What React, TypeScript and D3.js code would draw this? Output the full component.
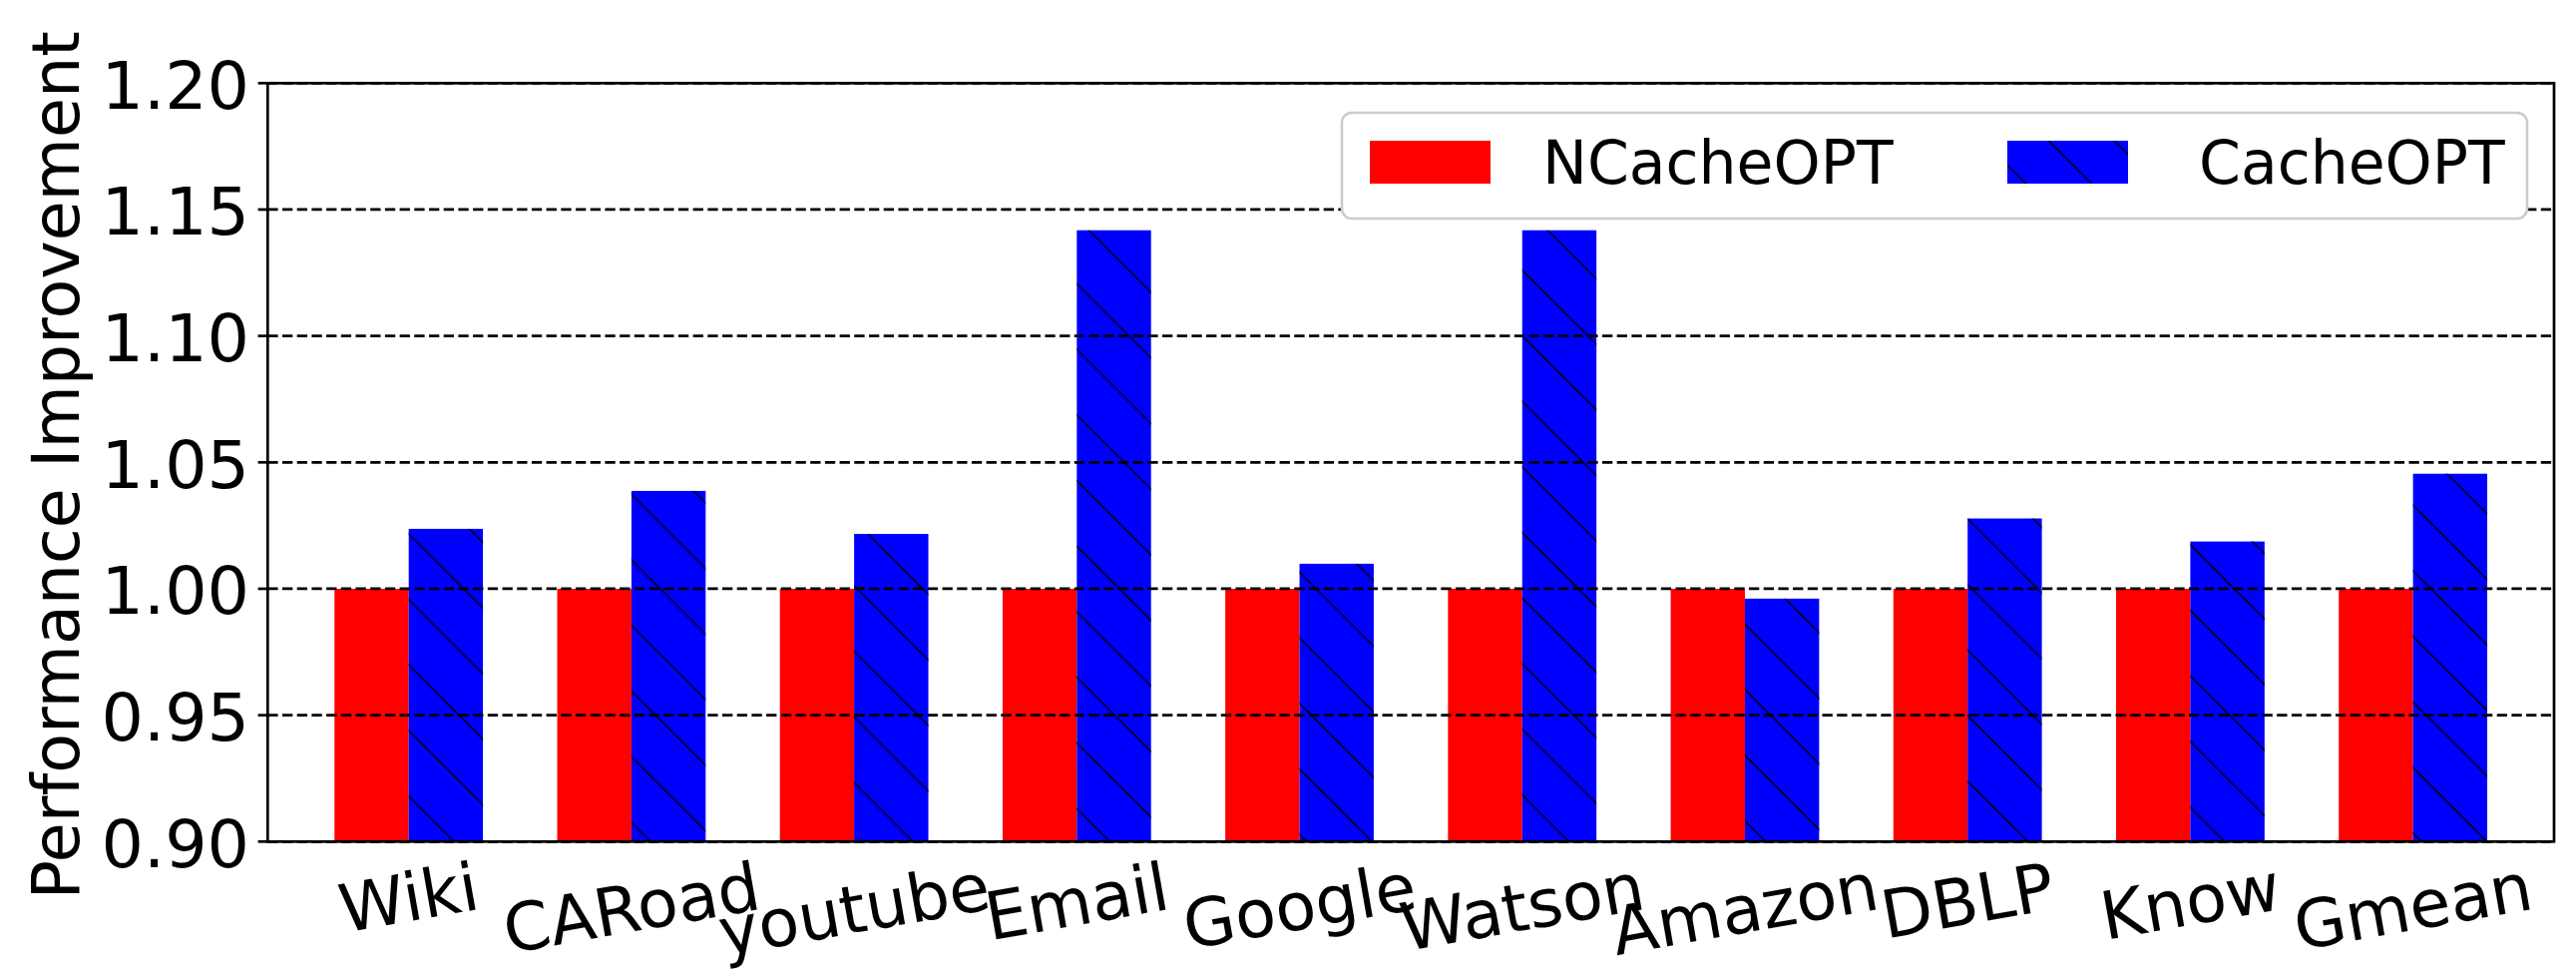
import React from "react";
import * as d3 from "d3";

// values
const categories = ["Wiki", "CARoad", "youtube", "Email", "Google", "Watson", "Amazon", "DBLP", "Know", "Gmean"];
const seriesNames = ["NCacheOPT", "CacheOPT"];
const ncacheopt = [1.0, 1.0, 1.0, 1.0, 1.0, 1.0, 1.0, 1.0, 1.0, 1.0];
const cacheopt = [1.0237, 1.0387, 1.0217, 1.1418, 1.0099, 1.1418, 0.9961, 1.0278, 1.0187, 1.0455];
const yTicks = [0.9, 0.95, 1.0, 1.05, 1.1, 1.15, 1.2];
const yLabel = "Performance Improvement";

const W = 2582;
const H = 982;
const FONT = "DejaVu Sans";
const TICK_FS = 66.7;
const LABEL_FS = 65;
const LEGEND_FS = 60;

const plot = { left: 268.3, right: 2560, top: 83.3, bottom: 843.3 };

function textWidth(s: string, font: string) {
  const ctx = document.createElement("canvas").getContext("2d");
  if (!ctx) return s.length * 40;
  ctx.font = font;
  return ctx.measureText(s).width;
}

export default function App() {
  const x = d3.scaleBand<string>()
    .domain(categories)
    .range([plot.left, plot.right])
    .paddingInner(1 / 3)
    .paddingOuter(0.3);
  const xs = d3.scaleBand<string>().domain(seriesNames).range([0, x.bandwidth()]);
  const y = d3.scaleLinear().domain([0.9, 1.2]).range([plot.bottom, plot.top]);

  const bars = categories.flatMap((c, i) =>
    [ncacheopt[i], cacheopt[i]].map((v, j) => ({
      key: c + j,
      j,
      x: x(c)! + xs(seriesNames[j])!,
      y: y(v),
      w: xs.bandwidth(),
      h: plot.bottom - y(v),
    }))
  );
  const hatchStep = 65.73;
  const rot = (10 * Math.PI) / 180;

  return (
    <svg width={W} height={H} style={{ position: "absolute", left: 0, top: 0, background: "#fff" }}
      fontFamily={FONT}>
      <defs>
        <pattern id="hatch" patternUnits="userSpaceOnUse" width={hatchStep} height={hatchStep}
          patternTransform="translate(6.2,0)">
          <path d={`M-2,-2L${hatchStep + 2},${hatchStep + 2}M${hatchStep - 2},-2L${hatchStep + 2},2M-2,${hatchStep - 2}L2,${hatchStep + 2}`}
            stroke="#000" strokeWidth={1.5} fill="none" />
        </pattern>
      </defs>
      <rect x={0} y={0} width={W} height={H} fill="#fff" />

      {/* bars */}
      {bars.map((b) => (
        <g key={b.key}>
          <rect x={b.x} y={b.y} width={b.w} height={b.h} fill={b.j === 0 ? "#ff0000" : "#0000ff"} />
          {b.j === 1 && <rect x={b.x} y={b.y} width={b.w} height={b.h} fill="url(#hatch)" />}
        </g>
      ))}

      {/* grid */}
      {yTicks.map((t) => (
        <line key={t} x1={plot.left} x2={plot.right} y1={y(t)} y2={y(t)}
          stroke="#000" strokeWidth={2.8} strokeDasharray="10.3 4.4" />
      ))}

      {/* y ticks and labels */}
      {yTicks.map((t) => (
        <g key={"yt" + t}>
          <line x1={plot.left - 9.7} x2={plot.left} y1={y(t)} y2={y(t)} stroke="#000" strokeWidth={2.7} />
          <text x={250} y={y(t)} dy="0.38em" textAnchor="end" fontSize={TICK_FS}>{t.toFixed(2)}</text>
        </g>
      ))}

      {/* spines */}
      <rect x={plot.left} y={plot.top} width={plot.right - plot.left} height={plot.bottom - plot.top}
        fill="none" stroke="#000" strokeWidth={2.7} />

      {/* x tick labels, rotated 10 degrees */}
      {categories.map((c) => {
        const cx = x(c)! + x.bandwidth() / 2;
        const w = textWidth(c, `${TICK_FS}px "${FONT}"`);
        const boxH = w * Math.sin(rot) + TICK_FS * 1.17 * Math.cos(rot);
        const cy = 849 + boxH / 2;
        return (
          <text key={c} transform={`translate(${cx},${cy}) rotate(-10)`} textAnchor="middle" dy="0.35em"
            fontSize={TICK_FS}>{c}</text>
        );
      })}

      {/* y label */}
      <text transform={`translate(79,${(plot.top + plot.bottom) / 2 + 3}) rotate(-90)`} textAnchor="middle"
        fontSize={LABEL_FS}>{yLabel}</text>

      {/* legend */}
      <g>
        <rect x={1345} y={113} width={1188} height={106} rx={10} fill="#fff" stroke="#cccccc" strokeWidth={2.6} />
        <rect x={1373} y={141} width={121} height={43} fill="#ff0000" />
        <text x={1546} y={183.5} fontSize={LEGEND_FS}>{seriesNames[0]}</text>
        <rect x={2012} y={141} width={121} height={43} fill="#0000ff" />
        <rect x={2012} y={141} width={121} height={43} fill="url(#hatch)" />
        <text x={2204} y={183.5} fontSize={LEGEND_FS}>{seriesNames[1]}</text>
      </g>
    </svg>
  );
}
